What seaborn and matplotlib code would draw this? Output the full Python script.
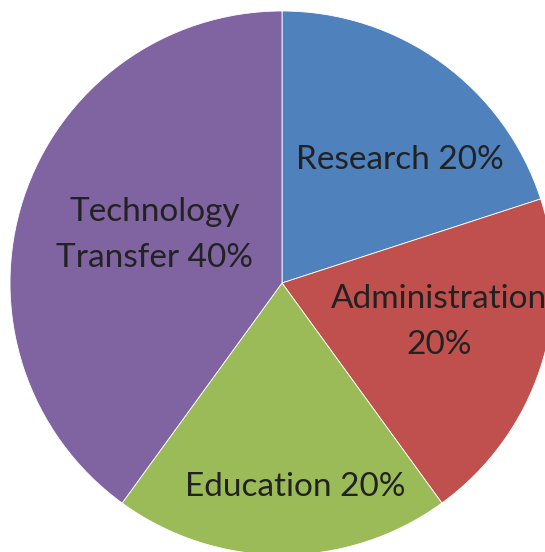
import matplotlib
matplotlib.use('Agg')
import matplotlib.pyplot as plt
import seaborn as sns

# Share of effort by activity
categories = ['Research', 'Administration', 'Education', 'Technology\nTransfer']
shares = [20, 20, 20, 40]
label_texts = ['Research 20%', 'Administration\n20%', 'Education 20%', 'Technology\nTransfer 40%']

sns.set_theme(style='white')
plt.rcParams['font.family'] = ['Lato', 'DejaVu Sans']

colors = sns.color_palette(['#4F81BD', '#C0504D', '#9BBB59', '#8064A2'])

fig = plt.figure(figsize=(5.45, 5.52), dpi=100)
# axes sized so the pie fills the frame, slightly cut at the right and bottom
ax = fig.add_axes([10 / 545, -3 / 552, 544 / 545, 544 / 552])

wedges, _ = ax.pie(shares, colors=colors, startangle=90, counterclock=False,
                   radius=1.0, wedgeprops={'edgecolor': 'white', 'linewidth': 0.6})
ax.set_xlim(-1, 1)
ax.set_ylim(-1, 1)
ax.set_aspect('equal')
ax.axis('off')

# label positions (x, y) in pie units, placed like the original
label_pos = [(0.434, 0.452), (0.577, -0.143), (0.048, -0.75), (-0.467, 0.176)]
for txt, (x, y) in zip(label_texts, label_pos):
    ax.text(x, y, txt, ha='center', va='center', fontsize=24,
            color='#222222', linespacing=1.65)

fig.savefig('out.png', dpi=100)
